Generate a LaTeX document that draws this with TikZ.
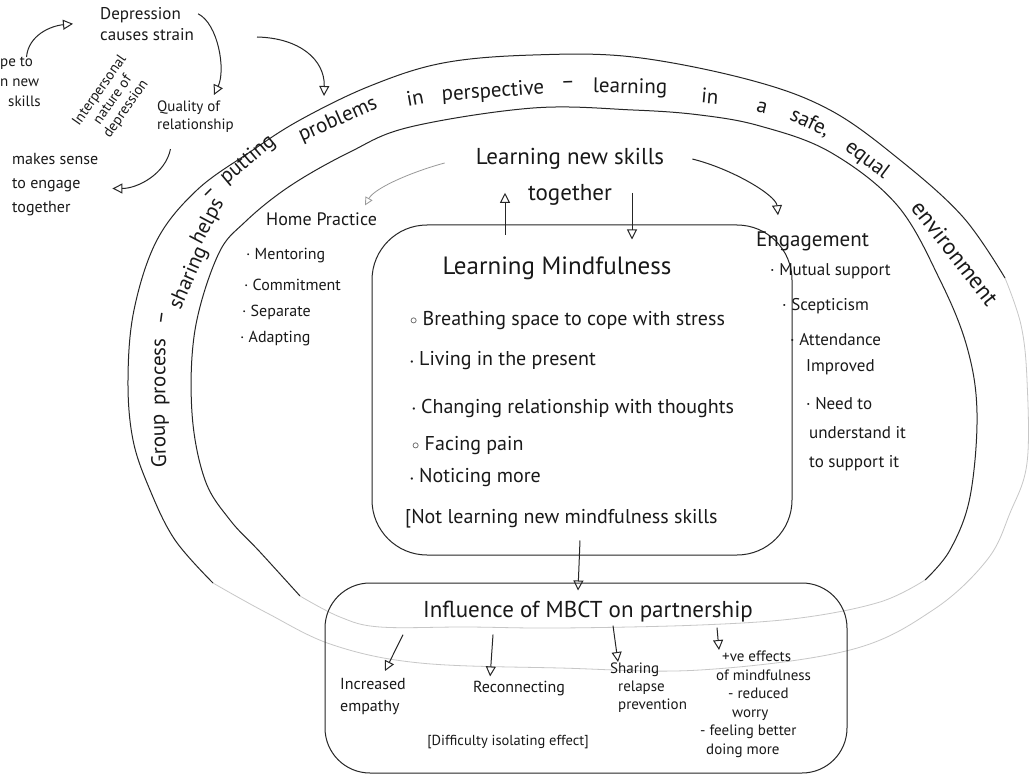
\documentclass[tikz,border=0pt]{standalone}
\usepackage{fontspec}
\setmainfont{PT Sans}
\usetikzlibrary{arrows.meta}
\newcommand\mybul{\raisebox{1.5pt}{\fontsize{8}{8}\selectfont•}}
\newcommand\mycirc{\raisebox{1pt}{$\scriptstyle\circ$}}
\begin{document}
\begin{tikzpicture}[x=1pt,y=-1pt,
  ink/.style={draw=black!85,line width=1pt},
  faint/.style={draw=black!22,line width=0.8pt},
  oarrow/.style={draw=black!85,line width=1pt,-{Triangle[open,length=10pt,width=10pt]}},
  garrow/.style={draw=black!40,line width=0.8pt,-{Triangle[open,length=8pt,width=8pt]}},
  t/.style={inner sep=0pt,text=black!90,align=left},
  ring/.style={inner sep=0pt,text=black!90,font=\fontsize{21}{21}\selectfont},
  boxline/.style={draw=black!85,line width=1pt}
]
\useasboundingbox (0,0) rectangle (1029,781);
\fill[white] (0,0) rectangle (1029,781);

% ---------- outer ring ----------
\draw[ink] plot[smooth,tension=0.6] coordinates {(213,583) (175,540) (150,490) (133,440) (128,380) (134,310) (157,240) (197,190) (250,152) (300,120) (370,86) (443,63) (533,55) (633,57) (750,80) (830,110) (900,160) (963,217) (1005,278)};
\draw[faint] plot[smooth,tension=0.6] coordinates {(1005,278) (1021,325) (1027,380) (1027,463) (1010,513) (987,560) (933,610) (850,650) (700,670) (560,668) (420,663) (333,645) (267,613) (213,583)};

% ---------- inner ring ----------
\draw[ink] plot[smooth,tension=0.6] coordinates {(300,596) (260,552) (230,520) (205,480) (192,413) (195,330) (218,255) (245,222) (290,186) (350,152) (410,127) (533,108) (633,110) (700,115) (760,126) (830,152) (897,205) (940,280) (967,347) (977,413) (970,497) (950,550) (925,580)};
\draw[faint] plot[smooth,tension=0.6] coordinates {(925,580) (880,602) (800,618) (700,625) (560,628) (467,627) (380,627) (340,617) (300,596)};

% ---------- ring text ----------
\node[ring,rotate=92] (r1) at (160,441) {Group};
\node[ring,rotate=90] (r2) at (162,372) {process};
\node[ring,rotate=82] (r3) at (164,318) {–};
\node[ring,rotate=66] (r4) at (189,278) {sharing};
\node[ring,rotate=62] (r5) at (208,222) {helps};
\node[ring,rotate=45] (r6) at (210,194) {–};
\node[ring,rotate=40] (r7) at (248,160) {putting};
\node[ring,rotate=24] (r8) at (338,120) {problems};
\node[ring,rotate=10] (r9) at (415,98) {in};
\node[ring,rotate=4] (r10) at (493,92) {perspective};
\node[ring,rotate=2] (r11) at (568,85) {–};
\node[ring,rotate=-1] (r12) at (630,88) {learning};
\node[ring,rotate=-5] (r13) at (710,96) {in};
\node[ring,rotate=-14] (r14) at (762,108) {a};
\node[ring,rotate=-25] (r15) at (810,123) {safe,};
\node[ring,rotate=-37] (r16) at (867,160) {equal};
\node[ring,rotate=-52,font=\fontsize{23}{23}\selectfont] (r17) at (955,253) {environment};

% ---------- boxes ----------
\node[boxline,rounded corners=55pt,minimum width=420pt,minimum height=330pt] (mbox) at (582,390) {};
\node[boxline,rounded corners=45pt,minimum width=522pt,minimum height=190pt] (bbox) at (586,678) {};

% ---------- top-left notes ----------
\node[t,anchor=north west,font=\fontsize{17}{21}\selectfont] (dep) at (100,7) {Depression\\causes strain};
\node[t,anchor=north west,font=\fontsize{15}{20}\selectfont] (hope) at (0,57) {pe to\\n new\\\hspace{8pt}skills};
\node[t,align=center,rotate=55,font=\fontsize{14.5}{16}\selectfont] (interp) at (113,100) {Interpersonal\\nature of\\depression};
\node[t,anchor=north west,font=\fontsize{15}{18}\selectfont] (qual) at (157,101) {Quality of\\relationship};
\node[t,anchor=north west,font=\fontsize{16}{24}\selectfont] (makes) at (12,153) {makes sense\\to engage\\together};
\coordinate (ringstart) at (257,37);
\coordinate (ringhit) at (324,96);

% ---------- middle ring labels ----------
\node[t,align=center,font=\fontsize{23}{36}\selectfont] (skills) at (570,177) {Learning new skills\\together};
\node[t,anchor=west,font=\fontsize{18}{20}\selectfont] (home) at (266,219) {Home Practice};
\node[t,anchor=west,font=\fontsize{16}{18}\selectfont] (h1) at (246,256) {· Mentoring};
\node[t,anchor=west,font=\fontsize{16}{18}\selectfont] (h2) at (244,285) {· Commitment};
\node[t,anchor=west,font=\fontsize{16}{18}\selectfont] (h3) at (242,312) {· Separate};
\node[t,anchor=west,font=\fontsize{16}{18}\selectfont] (h4) at (240,339) {· Adapting};

\node[t,anchor=west,font=\fontsize{21}{23}\selectfont] (eng) at (756,241) {Engagement};
\node[t,anchor=west,font=\fontsize{17}{19}\selectfont] (e1) at (770,271) {· Mutual support};
\node[t,anchor=west,font=\fontsize{17}{19}\selectfont] (e2) at (782,306) {· Scepticism};
\node[t,anchor=north west,font=\fontsize{17}{26}\selectfont] (e3) at (790,333) {· Attendance\\\hspace{16pt}Improved};
\node[t,anchor=north west,font=\fontsize{17}{29}\selectfont] (e4) at (806,397) {· Need to\\\hspace{3pt}understand it\\\hspace{3pt}to support it};

% ---------- learning mindfulness ----------
\node[t,font=\fontsize{25}{27}\selectfont] (mindt) at (557,268) {Learning Mindfulness};
\node[t,anchor=west,font=\fontsize{20}{22}\selectfont] (m1) at (410,321) {\mycirc\ Breathing space to cope with stress};
\node[t,anchor=west,font=\fontsize{20}{22}\selectfont] (m2) at (410,361) {\mybul\ Living in the present};
\node[t,anchor=west,font=\fontsize{20}{22}\selectfont] (m3) at (412,408) {\mybul\ Changing relationship with thoughts};
\node[t,anchor=west,font=\fontsize{20}{22}\selectfont] (m4) at (412,446) {\mycirc\ Facing pain};
\node[t,anchor=west,font=\fontsize{20}{22}\selectfont] (m5) at (410,478) {\mybul\ Noticing more};
\node[t,anchor=west,font=\fontsize{20}{22}\selectfont] (m6) at (405,519) {[Not learning new mindfulness skills};

% ---------- influence box ----------
\node[t,font=\fontsize{23}{25}\selectfont] (infl) at (588,612) {Influence of MBCT on partnership};
\node[t,anchor=north west,font=\fontsize{16}{22}\selectfont] (emp) at (340,678) {Increased\\empathy};
\node[t,anchor=west,font=\fontsize{16}{18}\selectfont] (recon) at (473,689) {Reconnecting};
\node[t,anchor=north west,font=\fontsize{15}{18}\selectfont] (relapse) at (610,663) {Sharing\\\hspace{8pt}relapse\\\hspace{8pt}prevention};
\node[t,anchor=north west,font=\fontsize{15}{18.5}\selectfont] (effects) at (700,651) {\hspace{22pt}+ve effects\\\hspace{16pt}of mindfulness\\\hspace{28pt}- reduced\\\hspace{32pt}worry\\- feeling better\\\hspace{6pt}doing more};
\node[t,font=\fontsize{14.5}{16}\selectfont] (diff) at (508,742) {[Difficulty isolating effect]};

% ---------- connectors ----------
\draw[oarrow] ([xshift=6pt]hope.north) .. controls +(2,-22) and +(-22,2) .. ([xshift=-27pt]dep.west);
\draw[oarrow] ([xshift=4pt,yshift=10pt]dep.east) .. controls +(20,10) and +(12,-25) .. ([xshift=-20pt,yshift=6pt]qual.north east);
\draw[oarrow] ([xshift=-25pt,yshift=-16pt]qual.south) .. controls +(-5,25) and +(25,0) .. ([xshift=14pt,yshift=-4pt]makes.east);
\draw[oarrow] (ringstart) .. controls (300,38) and (325,60) .. (ringhit);

\draw[garrow] ([xshift=-31pt,yshift=14pt]skills.west) .. controls +(-30,8) and +(10,-18) .. ([xshift=-12pt,yshift=7pt]home.north east);
\draw[oarrow] ([xshift=28pt,yshift=18pt]skills.east) .. controls +(40,10) and +(-2,-20) .. ([xshift=22pt,yshift=16pt]eng.north west);

\draw[oarrow] ([xshift=-77pt,yshift=-10pt]mbox.north) -- ([xshift=-65pt,yshift=13pt]skills.south);
\draw[oarrow] ([xshift=62pt,yshift=13pt]skills.south) -- ([xshift=50pt,yshift=-15pt]mbox.north);
\draw[oarrow] ([xshift=-2pt,yshift=15pt]mbox.south) -- ([xshift=-8pt,yshift=-8pt]bbox.north);

\draw[oarrow] ([xshift=-185pt,yshift=-12pt]infl.south) -- ([xshift=12pt,yshift=7pt]emp.north);
\draw[oarrow] ([xshift=-95pt,yshift=-12pt]infl.south) -- ([xshift=-29pt,yshift=5pt]recon.north);
\draw[oarrow] ([xshift=25pt,yshift=-3pt]infl.south) -- ([xshift=8pt,yshift=1pt]relapse.north west);
\draw[oarrow] ([xshift=129pt,yshift=-5pt]infl.south) -- ([xshift=19pt,yshift=1pt]effects.north west);
\end{tikzpicture}
\end{document}
